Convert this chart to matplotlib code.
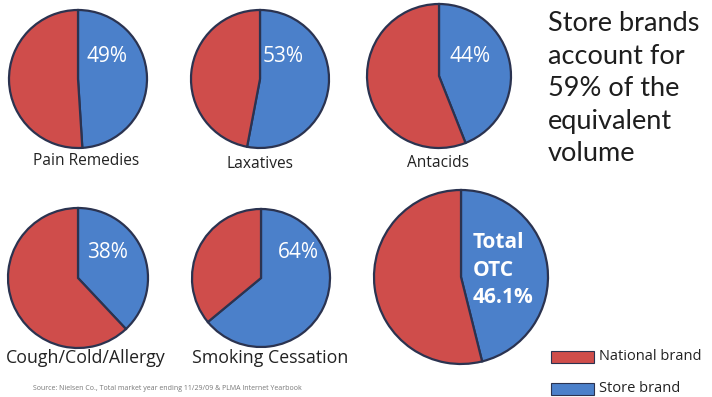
import matplotlib
matplotlib.use("Agg")
import matplotlib.pyplot as plt
from matplotlib.patches import Rectangle

categories = ["Pain Remedies", "Laxatives", "Antacids",
              "Cough/Cold/Allergy", "Smoking Cessation", "Total OTC"]
store_share = [49, 53, 44, 38, 64, 46.1]
pct_labels = ["49%", "53%", "44%", "38%", "64%", "Total\nOTC\n46.1%"]
legend_labels = ["National brand", "Store brand"]
headline = "Store brands\naccount for\n59% of the\nequivalent\nvolume"
source_note = "Source: Nielsen Co., Total market year ending 11/29/09 & PLMA Internet Yearbook"

RED = "#cf4d4b"
BLUE = "#4b80ca"
EDGE = "#2b3350"

W, H = 712, 397
fig = plt.figure(figsize=(W / 100, H / 100), dpi=100)
ax = fig.add_axes([0, 0, 1, 1])

# layout in pixel units, y measured from the top
pies = [
    dict(c=(78, 79), r=69, lab=(86, 161), fs=11.2, txt=(107, 57)),
    dict(c=(260, 79), r=69, lab=(260, 164), fs=11.2, txt=(283, 57)),
    dict(c=(439, 76), r=72, lab=(438, 163), fs=11.2, txt=(470, 57)),
    dict(c=(78, 278), r=70, lab=(86, 358), fs=12.8, txt=(108, 253)),
    dict(c=(261, 278), r=69, lab=(270, 358), fs=12.8, txt=(298, 253)),
    dict(c=(461, 277), r=87, lab=None, fs=0, txt=(473, 270)),
]

for i, p in enumerate(pies):
    s = store_share[i]
    cx, cy = p["c"]
    ax.pie([s, 100 - s], colors=[BLUE, RED], startangle=90,
           counterclock=False, center=(cx, H - cy), radius=p["r"],
           wedgeprops=dict(edgecolor=EDGE, linewidth=1.6))
    tx, ty = p["txt"]
    if i < 5:
        ax.text(tx, H - ty, pct_labels[i], color="white", fontsize=15,
                ha="center", va="center", family="Open Sans")
        ax.text(p["lab"][0], H - p["lab"][1], categories[i], color="#222222",
                fontsize=p["fs"], ha="center", va="center", family="Open Sans")
    else:
        ax.text(tx, H - ty, pct_labels[i], color="white", fontsize=15,
                fontweight="bold", ha="left", va="center", family="Open Sans",
                linespacing=1.4)

ax.text(548, H - 11, headline, color="#1e1e1e", fontsize=19.5,
        ha="left", va="top", family="Lato", linespacing=1.38)

# legend
for j, (lab, col) in enumerate(zip(legend_labels, [RED, BLUE])):
    y = [357, 389][j]
    ax.add_patch(Rectangle((551, H - y - 6), 43, 12, facecolor=col,
                           edgecolor=EDGE, linewidth=0.8))
    ax.text(599, H - y, lab, fontsize=10.5, ha="left", va="center",
            color="#222222", family="Open Sans")

ax.text(33, H - 389, source_note, fontsize=5, ha="left", va="center",
        color="#777777", family="Open Sans")

ax.set_xlim(0, W)
ax.set_ylim(0, H)
ax.set_aspect("equal", adjustable="datalim")
ax.axis("off")

fig.savefig("out.png", dpi=100, facecolor="white")
